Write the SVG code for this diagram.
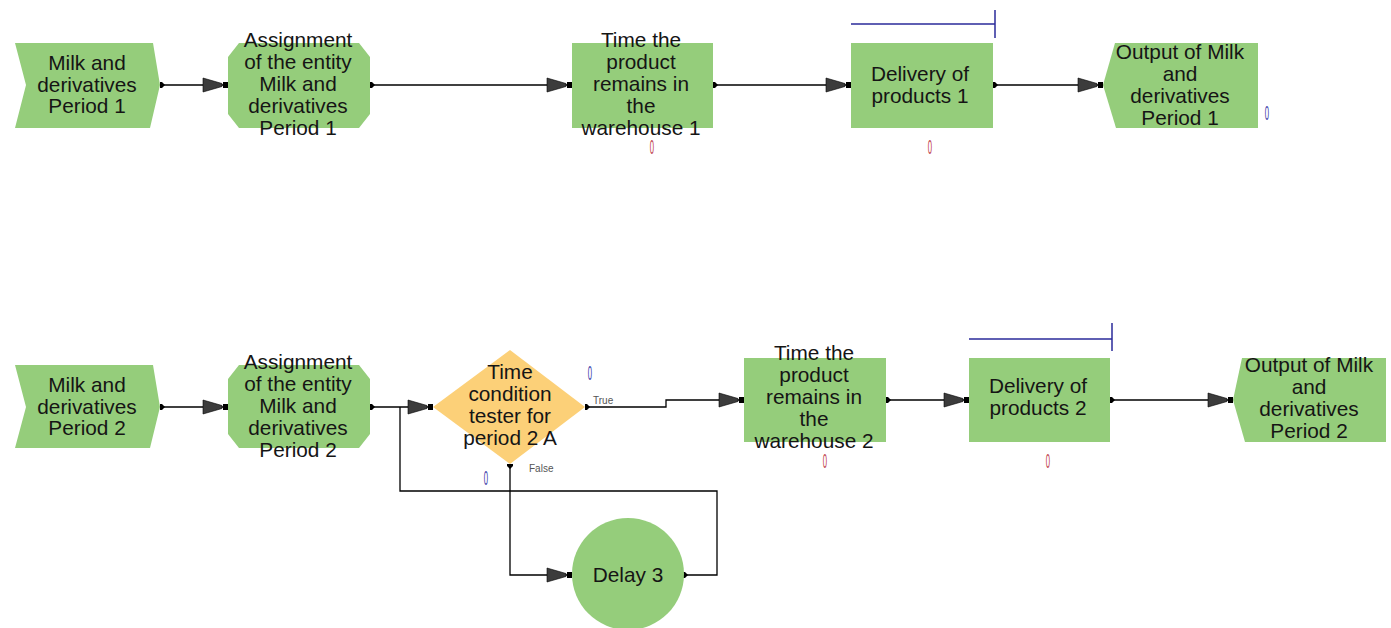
<svg xmlns="http://www.w3.org/2000/svg" width="1391" height="628" viewBox="0 0 1391 628">
  <style>
    .node { fill: #95cd7b; }
    .decide { fill: #fcd078; }
    .lbl { font-family: "Liberation Sans", Arial, sans-serif; font-size: 20.8px; fill: #151515; text-anchor: middle; }
    .small { font-family: "Liberation Sans", Arial, sans-serif; font-size: 10px; fill: #555; }
    .conn { fill: none; stroke: #000; stroke-width: 1.3; }
    .ctr { font-family: "Liberation Sans", Arial, sans-serif; font-size: 14px; text-anchor: middle; }
    .red { fill: #c0404c; }
    .blue { fill: #3a3aaa; }
    .bar { fill: none; stroke: #2b2b9a; stroke-width: 1.5; }
  </style>
  <defs>
    <marker id="arrowIn" markerUnits="userSpaceOnUse" viewBox="-1 -8 27 16" refX="25" refY="0" markerWidth="27" markerHeight="16" orient="auto">
      <path d="M0,-7 L19,-1.5 L19,1.5 L0,7 Z" fill="#3c3c3c" stroke="#000" stroke-width="0.6"/>
      <rect x="20" y="-3" width="5" height="6" fill="#000"/>
    </marker>
    <marker id="portOut" markerUnits="userSpaceOnUse" viewBox="-1 -4 7 8" refX="0" refY="0" markerWidth="7" markerHeight="8" orient="auto">
      <path d="M0,-3 L2,-3 L5,0 L2,3 L0,3 Z" fill="#000"/>
    </marker>
  </defs>

  <!-- connectors -->
  <g id="connectors">
    <path class="conn" d="M160,85 H228" marker-start="url(#portOut)" marker-end="url(#arrowIn)"/>
    <path class="conn" d="M370,85 H572" marker-start="url(#portOut)" marker-end="url(#arrowIn)"/>
    <path class="conn" d="M713,85 H851" marker-start="url(#portOut)" marker-end="url(#arrowIn)"/>
    <path class="conn" d="M993,85 H1103" marker-start="url(#portOut)" marker-end="url(#arrowIn)"/>

    <path class="conn" d="M160,407 H228" marker-start="url(#portOut)" marker-end="url(#arrowIn)"/>
    <path class="conn" d="M370,407 H433" marker-start="url(#portOut)" marker-end="url(#arrowIn)"/>
    <path class="conn" d="M585,407 H666 V400 H744" marker-start="url(#portOut)" marker-end="url(#arrowIn)"/>
    <path class="conn" d="M510,464 V575 H572" marker-start="url(#portOut)" marker-end="url(#arrowIn)"/>
    <path class="conn" d="M683,575 H717 V491 H400 V407" marker-start="url(#portOut)"/>
    <path class="conn" d="M886,400 H969" marker-start="url(#portOut)" marker-end="url(#arrowIn)"/>
    <path class="conn" d="M1110,400 H1233" marker-start="url(#portOut)" marker-end="url(#arrowIn)"/>

    <text class="small" x="593" y="404">True</text>
    <text class="small" x="529" y="472">False</text>
  </g>

  <!-- period 1 line -->
  <g id="create1">
    <polygon class="node" points="15,43 153,43 160,85 150,128 15,128 26,85"/>
    <text class="lbl" x="87" y="70">Milk and</text>
    <text class="lbl" x="87" y="92">derivatives</text>
    <text class="lbl" x="87" y="113">Period 1</text>
  </g>

  <g id="assign1">
    <polygon class="node" points="239,43 359,43 370,57 370,114 359,128 239,128 228,114 228,57"/>
    <text class="lbl" x="298" y="47">Assignment</text>
    <text class="lbl" x="298" y="69">of the entity</text>
    <text class="lbl" x="298" y="91">Milk and</text>
    <text class="lbl" x="298" y="113">derivatives</text>
    <text class="lbl" x="298" y="135">Period 1</text>
  </g>

  <g id="process1">
    <rect class="node" x="572" y="43" width="141" height="85"/>
    <text class="lbl" x="641" y="47">Time the</text>
    <text class="lbl" x="641" y="69">product</text>
    <text class="lbl" x="641" y="91">remains in</text>
    <text class="lbl" x="641" y="113">the</text>
    <text class="lbl" x="641" y="135">warehouse 1</text>
    <text class="ctr red" transform="translate(652,154) scale(0.55,1.4)">0</text>
  </g>

  <g id="delivery1">
    <path class="bar" d="M851,24 H995 M995,10 V38"/>
    <rect class="node" x="851" y="43" width="142" height="85"/>
    <text class="lbl" x="920" y="81">Delivery of</text>
    <text class="lbl" x="920" y="103">products 1</text>
    <text class="ctr red" transform="translate(930,154) scale(0.55,1.4)">0</text>
  </g>

  <g id="dispose1">
    <polygon class="node" points="1115,43 1258,43 1258,128 1116,128 1103,85"/>
    <text class="lbl" x="1180" y="59">Output of Milk</text>
    <text class="lbl" x="1180" y="81">and</text>
    <text class="lbl" x="1180" y="103">derivatives</text>
    <text class="lbl" x="1180" y="125">Period 1</text>
    <text class="ctr blue" transform="translate(1267,120) scale(0.55,1.4)">0</text>
  </g>

  <!-- period 2 line -->
  <g id="create2">
    <polygon class="node" points="15,365 153,365 160,407 150,448 15,448 26,407"/>
    <text class="lbl" x="87" y="392">Milk and</text>
    <text class="lbl" x="87" y="414">derivatives</text>
    <text class="lbl" x="87" y="435">Period 2</text>
  </g>

  <g id="assign2">
    <polygon class="node" points="239,365 359,365 370,379 370,434 359,448 239,448 228,434 228,379"/>
    <text class="lbl" x="298" y="369">Assignment</text>
    <text class="lbl" x="298" y="391">of the entity</text>
    <text class="lbl" x="298" y="413">Milk and</text>
    <text class="lbl" x="298" y="435">derivatives</text>
    <text class="lbl" x="298" y="457">Period 2</text>
  </g>

  <g id="decide2">
    <polygon class="decide" points="433,407 510,350 585,407 510,464"/>
    <text class="lbl" x="510" y="379">Time</text>
    <text class="lbl" x="510" y="401">condition</text>
    <text class="lbl" x="510" y="423">tester for</text>
    <text class="lbl" x="510" y="445">period 2 A</text>
    <text class="ctr blue" transform="translate(590,380) scale(0.55,1.4)">0</text>
    <text class="ctr blue" transform="translate(486,485) scale(0.55,1.4)">0</text>
  </g>

  <g id="delay3">
    <circle class="node" cx="628" cy="574" r="56"/>
    <text class="lbl" x="628" y="582">Delay 3</text>
  </g>

  <g id="process2">
    <rect class="node" x="744" y="358" width="142" height="84"/>
    <text class="lbl" x="814" y="360">Time the</text>
    <text class="lbl" x="814" y="382">product</text>
    <text class="lbl" x="814" y="404">remains in</text>
    <text class="lbl" x="814" y="426">the</text>
    <text class="lbl" x="814" y="448">warehouse 2</text>
    <text class="ctr red" transform="translate(825,468) scale(0.55,1.4)">0</text>
  </g>

  <g id="delivery2">
    <path class="bar" d="M969,339 H1112 M1112,323 V351"/>
    <rect class="node" x="969" y="358" width="141" height="84"/>
    <text class="lbl" x="1038" y="393">Delivery of</text>
    <text class="lbl" x="1038" y="415">products 2</text>
    <text class="ctr red" transform="translate(1048,468) scale(0.55,1.4)">0</text>
  </g>

  <g id="dispose2">
    <polygon class="node" points="1242,358 1386,358 1386,442 1245,442 1233,400"/>
    <text class="lbl" x="1309" y="372">Output of Milk</text>
    <text class="lbl" x="1309" y="394">and</text>
    <text class="lbl" x="1309" y="416">derivatives</text>
    <text class="lbl" x="1309" y="438">Period 2</text>
  </g>
</svg>
